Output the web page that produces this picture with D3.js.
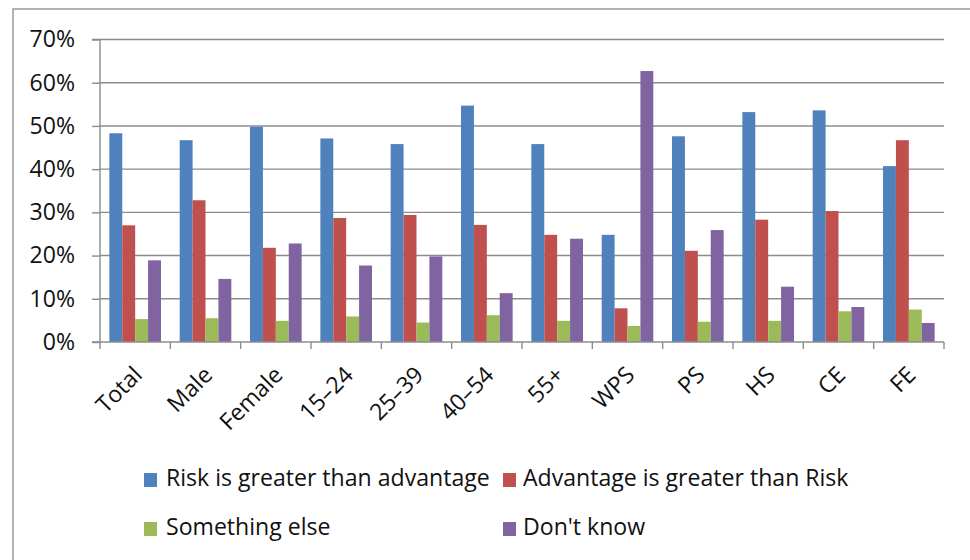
<!DOCTYPE html>
<html><head><meta charset="utf-8">
<script src="https://cdn.jsdelivr.net/npm/d3@7/dist/d3.min.js"></script>
<style>body{margin:0;background:#fff}svg{display:block}text{font-family:"Open Sans",sans-serif;fill:#111}</style>
</head><body><svg id="c" width="970" height="560"></svg>
<script>
const categories = ["Total","Male","Female","15–24","25–39","40–54","55+","WPS","PS","HS","CE","FE"];
const seriesNames = ["Risk is greater than advantage","Advantage is greater than Risk","Something else","Don't know"];
const riskGreater = [48.3,46.7,49.8,47.1,45.8,54.7,45.8,24.8,47.6,53.2,53.6,40.7];
const advantageGreater = [27.0,32.8,21.8,28.7,29.4,27.1,24.8,7.8,21.1,28.3,30.3,46.7];
const somethingElse = [5.3,5.5,4.9,5.9,4.5,6.2,4.9,3.7,4.7,4.9,7.1,7.5];
const dontKnow = [18.9,14.6,22.8,17.7,19.8,11.3,23.9,62.7,25.9,12.8,8.1,4.4];
const yTicks = [0,10,20,30,40,50,60,70];
const colors = ["#4F81BD","#C0504D","#9BBB59","#8064A2"];

const series = [riskGreater, advantageGreater, somethingElse, dontKnow];
const svg = d3.select("#c");
const L=100, R=944, T=39.5, B=342;

const probe = svg.append("text").attr("font-size",24).text(seriesNames[0]);
const fs = 24*324/probe.node().getComputedTextLength();
probe.remove();

svg.append("rect").attr("x",13).attr("y",9).attr("width",980).attr("height",620)
  .attr("fill","#fff").attr("stroke","#8c8c8c").attr("stroke-width",1.3);

const x = d3.scaleBand().domain(categories).range([L,R]).paddingInner(0.266).paddingOuter(0.133);
const xs = d3.scaleBand().domain(d3.range(4)).range([0,x.bandwidth()]);
const y = d3.scaleLinear().domain([0,70]).range([B,T]);

svg.append("g").selectAll("line").data(yTicks.filter(d=>d>0)).join("line")
  .attr("x1",L).attr("x2",R).attr("y1",d=>y(d)).attr("y2",d=>y(d))
  .attr("stroke","#8c8c8c").attr("stroke-width",1.4);

const g = svg.append("g");
categories.forEach((c,i)=>{
  series.forEach((s,k)=>{
    g.append("rect").attr("x",x(c)+xs(k)).attr("width",xs.bandwidth())
      .attr("y",y(s[i])).attr("height",B-y(s[i])).attr("fill",colors[k]);
  });
});

const ya = svg.append("g").attr("transform",`translate(${L},0)`)
  .call(d3.axisLeft(y).tickValues(yTicks).tickFormat(d=>d+"%").tickSize(8).tickPadding(17));
ya.select(".domain").attr("stroke","#8c8c8c").attr("stroke-width",1.4).attr("d",`M-8,${T}H0V${B}H-8`);
ya.selectAll(".tick line").attr("stroke","#8c8c8c").attr("stroke-width",1.4);
ya.selectAll(".tick text").attr("font-size",fs).style("font-family","'Open Sans',sans-serif").attr("fill","#111");

const boundaries = d3.range(categories.length+1).map(i=>L+i*(R-L)/categories.length);
svg.append("line").attr("x1",L).attr("x2",R).attr("y1",B).attr("y2",B).attr("stroke","#8c8c8c").attr("stroke-width",1.4);
svg.append("g").selectAll("line").data(boundaries).join("line")
  .attr("x1",d=>d).attr("x2",d=>d).attr("y1",B).attr("y2",B+7).attr("stroke","#8c8c8c").attr("stroke-width",1.4);
svg.append("g").selectAll("text").data(categories).join("text")
  .attr("transform",d=>`translate(${x(d)+x.bandwidth()/2+4},${B+30}) rotate(-45)`)
  .attr("text-anchor","end").attr("dominant-baseline","middle").attr("font-size",fs).text(d=>d);

const legendPos = [[144,480],[503,480],[144,529],[503,529]];
seriesNames.forEach((n,k)=>{
  const [lx,ly]=legendPos[k];
  svg.append("rect").attr("x",lx).attr("y",ly-7).attr("width",13).attr("height",14).attr("fill",colors[k]);
  svg.append("text").attr("x",lx+(k%2? 20:22)).attr("y",ly).attr("dominant-baseline","middle").attr("font-size",fs).text(n);
});
</script></body></html>
